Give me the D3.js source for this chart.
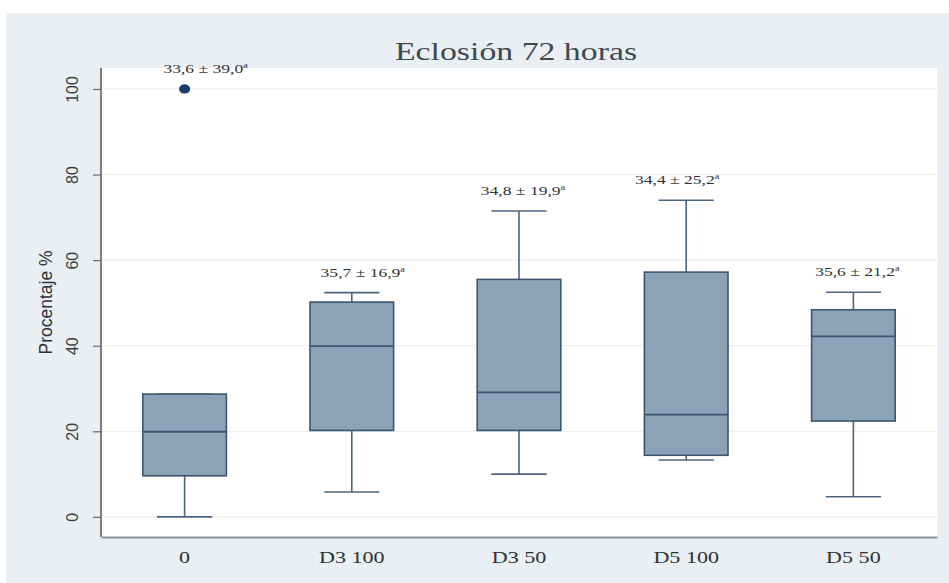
<!DOCTYPE html>
<html>
<head>
<meta charset="utf-8">
<script src="https://cdn.jsdelivr.net/npm/d3@7"></script>
<style>
  html, body { margin: 0; padding: 0; background: #ffffff; }
  svg { display: block; }
</style>
</head>
<body>
<svg id="chart" width="949" height="583"></svg>
<script>
// ---- Data ----
const categories    = ["0", "D3 100", "D3 50", "D5 100", "D5 50"];
const lowerWhisker  = [0.0, 5.8, 10.0, 13.3, 4.7];
const quartile1     = [9.6, 20.2, 20.2, 14.4, 22.4];
const medians       = [19.9, 39.9, 29.1, 23.9, 42.2];
const quartile3     = [28.7, 50.2, 55.5, 57.2, 48.4];
const upperWhisker  = [28.7, 52.4, 71.5, 74.0, 52.5];
const outliers      = [[100], [], [], [], []];
const meanSdLabels  = ["33,6 ± 39,0", "35,7 ± 16,9", "34,8 ± 19,9", "34,4 ± 25,2", "35,6 ± 21,2"];
const labelMark     = "a";
const yTicks        = [0, 20, 40, 60, 80, 100];
const yDomain       = [-4.7, 104.9];
const titleText     = "Eclosión 72 horas";
const yTitleText    = "Procentaje %";

// ---- Layout / style ----
const W = 949, H = 583;
const plot = { left: 101, right: 937, top: 68, bottom: 537 };
const stretch = 1.3; // reference text looks horizontally widened
const labelNudge = [21, 11, 4, -9, 4];
const fillC = "#8ba2b7", lineC = "#3d5570", whiskC = "#4a6582";

const svg = d3.select("#chart");

// graph region background
svg.append("rect").attr("x", 6).attr("y", 13).attr("width", W - 6).attr("height", H - 13)
  .attr("fill", "#e9eff2");
// plot region
svg.append("rect").attr("x", plot.left).attr("y", plot.top)
  .attr("width", plot.right - plot.left).attr("height", plot.bottom - plot.top)
  .attr("fill", "#ffffff");

const x = d3.scaleBand().domain(categories).range([plot.left, plot.right])
  .paddingInner(0.5).paddingOuter(0.25);
const y = d3.scaleLinear().domain(yDomain).range([plot.bottom, plot.top]);

// gridlines
svg.append("g").selectAll("line").data(yTicks).join("line")
  .attr("x1", plot.left).attr("x2", plot.right)
  .attr("y1", d => y(d)).attr("y2", d => y(d))
  .attr("stroke", "#eef0ec").attr("stroke-width", 1.2);

// y axis
const yAxis = svg.append("g").attr("transform", `translate(${plot.left},0)`)
  .call(d3.axisLeft(y).tickValues(yTicks).tickSize(8).tickPadding(0).tickFormat(d3.format("d")));
yAxis.select(".domain").remove();
yAxis.selectAll(".tick line").attr("stroke", "#6b6f73").attr("stroke-width", 1.2);
yAxis.selectAll(".tick text")
  .attr("x", null).attr("dy", null)
  .attr("transform", "translate(-29,0) rotate(-90)")
  .attr("text-anchor", "middle").attr("dominant-baseline", "central")
  .attr("font-family", "Liberation Sans, Arial, sans-serif")
  .attr("font-size", 16).attr("fill", "#3a3f44");
svg.append("line").attr("x1", plot.left).attr("x2", plot.left)
  .attr("y1", plot.top).attr("y2", plot.bottom)
  .attr("stroke", "#55595d").attr("stroke-width", 1.5);

// x axis
const xAxis = svg.append("g").attr("transform", `translate(0,${plot.bottom})`)
  .call(d3.axisBottom(x).tickSize(0).tickPadding(0));
xAxis.select(".domain").attr("stroke", "#8d9296").attr("stroke-width", 2);
xAxis.selectAll(".tick text")
  .attr("y", null).attr("dy", null)
  .attr("transform", `translate(0,26) scale(${stretch},1)`)
  .attr("text-anchor", "middle")
  .attr("font-family", "Liberation Serif, Times New Roman, serif")
  .attr("font-size", 17).attr("fill", "#2e3236");

// y title
svg.append("text")
  .attr("transform", `translate(52,${(plot.top + plot.bottom) / 2}) rotate(-90)`)
  .attr("text-anchor", "middle")
  .attr("font-family", "Liberation Sans, Arial, sans-serif")
  .attr("font-size", 17.5).attr("fill", "#2e3236")
  .text(yTitleText);

// title
svg.append("text")
  .attr("transform", `translate(516,60) scale(${stretch},1)`)
  .attr("text-anchor", "middle")
  .attr("font-family", "Liberation Serif, Times New Roman, serif")
  .attr("font-size", 26).attr("fill", "#3f4850")
  .text(titleText);

// boxes
const boxes = categories.map((c, i) => ({
  c, i, lo: lowerWhisker[i], q1: quartile1[i], med: medians[i],
  q3: quartile3[i], hi: upperWhisker[i], out: outliers[i], label: meanSdLabels[i]
}));
const bw = x.bandwidth();
const capW = bw * 0.66;
const g = svg.append("g");
const bg = g.selectAll("g.box").data(boxes).join("g").attr("class", "box");

// whiskers
bg.append("line")
  .attr("x1", d => x(d.c) + bw / 2).attr("x2", d => x(d.c) + bw / 2)
  .attr("y1", d => y(d.hi)).attr("y2", d => y(d.q3))
  .attr("stroke", whiskC).attr("stroke-width", 1.6);
bg.append("line")
  .attr("x1", d => x(d.c) + bw / 2).attr("x2", d => x(d.c) + bw / 2)
  .attr("y1", d => y(d.q1)).attr("y2", d => y(d.lo))
  .attr("stroke", whiskC).attr("stroke-width", 1.6);
bg.append("line")
  .attr("x1", d => x(d.c) + bw / 2 - capW / 2).attr("x2", d => x(d.c) + bw / 2 + capW / 2)
  .attr("y1", d => y(d.hi)).attr("y2", d => y(d.hi))
  .attr("stroke", whiskC).attr("stroke-width", 1.6);
bg.append("line")
  .attr("x1", d => x(d.c) + bw / 2 - capW / 2).attr("x2", d => x(d.c) + bw / 2 + capW / 2)
  .attr("y1", d => y(d.lo)).attr("y2", d => y(d.lo))
  .attr("stroke", whiskC).attr("stroke-width", 1.6);

// box
bg.append("rect")
  .attr("x", d => x(d.c)).attr("width", bw)
  .attr("y", d => y(d.q3)).attr("height", d => y(d.q1) - y(d.q3))
  .attr("fill", fillC).attr("stroke", lineC).attr("stroke-width", 1.6);
// median
bg.append("line")
  .attr("x1", d => x(d.c)).attr("x2", d => x(d.c) + bw)
  .attr("y1", d => y(d.med)).attr("y2", d => y(d.med))
  .attr("stroke", lineC).attr("stroke-width", 1.8);

// outliers
bg.selectAll("ellipse").data(d => d.out.map(v => ({ c: d.c, v }))).join("ellipse")
  .attr("cx", d => x(d.c) + bw / 2).attr("cy", d => y(d.v))
  .attr("rx", 5.6).attr("ry", 4.6)
  .attr("fill", "#1c3a6b");

// mean ± sd labels
const lab = bg.append("text")
  .attr("transform", d => {
    const top = Math.max(d.hi, ...d.out);
    return `translate(${x(d.c) + bw / 2 + labelNudge[d.i]},${y(top) - 16}) scale(${stretch},1)`;
  })
  .attr("text-anchor", "middle")
  .attr("font-family", "Liberation Serif, Times New Roman, serif")
  .attr("font-size", 13.5).attr("fill", "#2e3236");
lab.append("tspan").text(d => d.label);
lab.append("tspan").attr("font-size", 8).attr("dy", -5).text(labelMark);
</script>
</body>
</html>
